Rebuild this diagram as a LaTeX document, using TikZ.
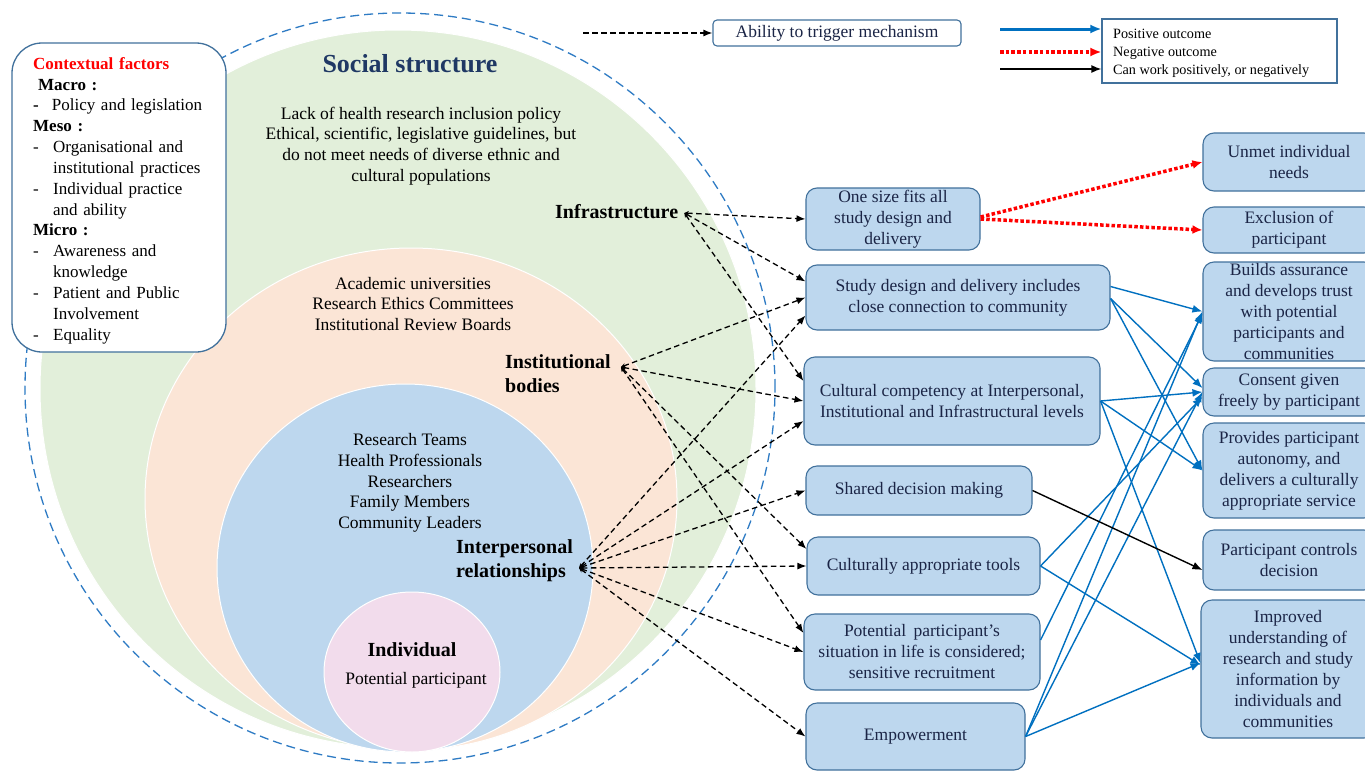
\documentclass[tikz,border=0pt]{standalone}
\usepackage{fontspec}
\setmainfont{Liberation Serif}
\usetikzlibrary{arrows.meta,calc}
\definecolor{gfill}{HTML}{E2EFDA}
\definecolor{pfill}{HTML}{FBE5D6}
\definecolor{bfill}{HTML}{BDD7EE}
\definecolor{kfill}{HTML}{F2DCEC}
\definecolor{bord}{HTML}{41719C}
\definecolor{dblue}{HTML}{2E7BC4}
\definecolor{ablue}{HTML}{0070C0}
\definecolor{tnavy}{HTML}{1B2546}
\definecolor{ssnavy}{HTML}{1F3864}
\definecolor{ctxred}{HTML}{FF0000}
\newcommand{\fsz}[2]{\fontsize{#1}{#2}\selectfont}
\newcommand{\dsh}{\makebox[20pt][l]{-}}
\begin{document}
\begin{tikzpicture}[x=1pt,y=-1pt,
  mbox/.style={draw=bord, fill=bfill, rounded corners=11pt, line width=1.1pt, align=center, text=tnavy, font=\fsz{17.5}{21}, inner sep=0pt},
  rbox/.style={mbox, minimum width=172pt},
  lbl/.style={font=\bfseries\fsz{20}{24}, align=left, inner sep=0pt, anchor=west},
  ctext/.style={font=\fsz{17.5}{20.8}, align=center, inner sep=0pt},
  dasharr/.style={black, line width=1.3pt, dash pattern=on 5.5pt off 3.5pt, {Stealth[length=4.5pt,width=4.5pt]}-{Latex[length=9pt,width=7pt]}},
  barr/.style={draw=ablue, line width=1.4pt, -{Latex[length=10pt,width=8pt]}},
  rarr/.style={draw=red, line width=3.5pt, dash pattern=on 3.5pt off 2.2pt, -{Latex[length=10pt,width=9pt]}},
  karr/.style={draw=black, line width=1.4pt, -{Latex[length=10pt,width=8pt]}}
]
\useasboundingbox (0,0) rectangle (1365,771);
\clip (0,0) rectangle (1365,771);
\fill[white] (0,0) rectangle (1365,771);

% nested ellipses
\draw[white, line width=1pt, fill=gfill] (398,389) ellipse [x radius=358pt, y radius=359pt];
\draw[white, line width=1pt, fill=pfill] (411,499) ellipse [x radius=266pt, y radius=251pt];
\draw[white, line width=1pt, fill=bfill] (405,568) ellipse [x radius=188pt, y radius=184pt];
\draw[white, line width=1pt, fill=kfill] (412,672) ellipse [x radius=88pt, y radius=80pt];
\draw[dblue, line width=1.3pt, dash pattern=on 9pt off 5pt] (400,388) ellipse [x radius=375pt, y radius=375pt];

% contextual factors box
\node[draw=bord, fill=white, line width=1.3pt, rounded corners=30pt, minimum width=214pt, minimum height=309pt, inner sep=0pt] (ctx) at (119,197.5) {};
\node[text width=190pt, inner sep=0pt, align=left, font=\fsz{17}{20.85}, anchor=north west] (ctxt) at (33,57) {%
{\color{ctxred}\bfseries Contextual factors}\\
\hspace*{5pt}\textbf{Macro :}\\
\textbf{-}\hspace*{13pt}Policy and legislation\\
\textbf{Meso :}\\
\dsh Organisational and\\
\hspace*{20pt}institutional practices\\
\dsh Individual practice\\
\hspace*{20pt}and ability\\
\textbf{Micro :}\\
\dsh Awareness and\\
\hspace*{20pt}knowledge\\
\dsh Patient and Public\\
\hspace*{20pt}Involvement\\
\dsh Equality};

% circle texts
\node[font=\bfseries\fsz{26}{30}, text=ssnavy, inner sep=0pt] (ss) at (410,64) {Social structure};
\node[ctext] (gtxt) at (421,146) {Lack of health research inclusion policy\\Ethical, scientific, legislative guidelines, but\\do not meet needs of diverse ethnic and\\cultural populations};
\node[ctext] (ptxt) at (413,304) {Academic universities\\Research Ethics Committees\\Institutional Review Boards};
\node[ctext] (btxt) at (410,483) {Research Teams\\Health Professionals\\Researchers\\Family Members\\Community Leaders};
\node[font=\bfseries\fsz{20}{24}, inner sep=0pt] (ind) at (412,650) {Individual};
\node[ctext] (pp) at (416,680) {Potential participant};

\node[lbl] (infra) at (555,212) {Infrastructure};
\node[lbl] (inst) at (505,374) {Institutional\\bodies};
\node[lbl] (intp) at (456,561) {Interpersonal\\relationships};
\coordinate (infraP) at ([xshift=6pt,yshift=-1pt]infra.east);
\coordinate (instP) at ([xshift=10pt,yshift=7pt]inst.east);
\coordinate (intP) at ([xshift=6pt,yshift=-7pt]intp.east);

% top trigger + legend
\node[draw=bord, fill=white, line width=1.1pt, rounded corners=4pt, minimum width=248pt, minimum height=26pt, inner sep=0pt, text=tnavy, font=\fsz{17.5}{21}] (trig) at (837,33) {Ability to trigger mechanism};
\coordinate (trgS) at (583,33);
\draw[black, line width=1.3pt, dash pattern=on 5.5pt off 3.5pt, -{Latex[length=9pt,width=7pt]}] (trgS) -- (trig.west);

\node[draw=bord, fill=white, line width=1.2pt, minimum width=235pt, minimum height=64pt, inner sep=0pt] (leg) at (1219.5,51) {};
\node[inner sep=0pt, align=left, font=\fsz{14.2}{18}, anchor=north west] (legt) at (1113,29) {Positive outcome\\Negative outcome\\Can work positively, or negatively};
\coordinate (lg1) at (1000,29);
\coordinate (lg2) at (1000,52);
\coordinate (lg3) at (1000,69);
\draw[draw=ablue, line width=3pt, -{Latex[length=11pt,width=9pt]}] (lg1) -- (lg1 -| leg.west);
\draw[draw=red, line width=3.5pt, dash pattern=on 3.5pt off 2.2pt, -{Latex[length=11pt,width=9pt]}] (lg2) -- (lg2 -| leg.west);
\draw[draw=black, line width=1.4pt, -{Latex[length=10pt,width=8pt]}] (lg3) -- (lg3 -| leg.west);

% middle boxes
\node[mbox, minimum width=174pt, minimum height=62pt] (M1) at (893,219) {One size fits all\\study design and\\delivery};
\node[mbox, minimum width=304pt, minimum height=65pt] (M2) at (958,297.5) {Study design and delivery includes\\close connection to community};
\node[mbox, minimum width=296pt, minimum height=88pt] (M3) at (952,401) {Cultural competency at Interpersonal,\\Institutional and Infrastructural levels};
\node[mbox, minimum width=226pt, minimum height=49pt] (M4) at (919,490.5) {Shared decision making};
\node[mbox, minimum width=233pt, minimum height=58pt] (M5) at (923.5,566) {Culturally appropriate tools};
\node[mbox, minimum width=236pt, minimum height=76pt] (M6) at (922,652) {Potential\, participant’s\\situation in life is considered;\\sensitive recruitment};
\node[mbox, minimum width=219pt, minimum height=67pt] (M7) at (915.5,736.5) {Empowerment};

% right boxes
\node[rbox, minimum height=58pt] (R1) at (1289,162) {Unmet individual\\needs};
\node[rbox, minimum height=46pt] (R2) at (1289,230) {Exclusion of\\participant};
\node[rbox, minimum height=99pt] (R3) at (1289,311.5) {Builds assurance\\and develops trust\\with potential\\participants and\\communities};
\node[rbox, minimum height=48pt] (R4) at (1289,392) {Consent given\\freely by participant};
\node[rbox, minimum height=95pt] (R5) at (1289,470.5) {Provides participant\\autonomy, and\\delivers a culturally\\appropriate service};
\node[rbox, minimum height=60pt] (R6) at (1289,560) {Participant controls\\decision};
\node[rbox, minimum width=174pt, minimum height=138pt] (R7) at (1288,669) {Improved\\understanding of\\research and study\\information by\\individuals and\\communities};

% dashed mechanism arrows
\draw[dasharr] (infraP) -- (M1.west);
\draw[dasharr] (infraP) -- ([yshift=16pt]M2.west);
\draw[dasharr] (infraP) -- ([yshift=20pt]M3.west);
\draw[dasharr] (instP) -- (M2.west);
\draw[dasharr] (instP) -- (M3.west);
\draw[dasharr] (instP) -- ([yshift=17pt]M5.west);
\draw[dasharr] (instP) -- ([yshift=19pt]M6.west);
\draw[dasharr] (intP) -- ([yshift=-18pt]M2.west);
\draw[dasharr] (intP) -- ([yshift=-20pt]M3.west);
\draw[dasharr] (intP) -- (M4.west);
\draw[dasharr] (intP) -- (M5.west);
\draw[dasharr] (intP) -- (M6.west);
\draw[dasharr] (intP) -- (M7.west);

% negative outcomes
\draw[rarr] ([yshift=2pt]M1.east) -- (R1.west);
\draw[rarr] (M1.east) -- (R2.west);

% positive outcomes
\draw[barr] ([yshift=11pt]M2.east) -- (R3.west);
\draw[barr] ([yshift=-1pt]M2.east) -- ([yshift=4pt]R4.west);
\draw[barr] ([yshift=-1pt]M2.east) -- (R5.west);
\draw[barr] (M3.east) -- (R4.west);
\draw[barr] (M3.east) -- (R5.west);
\draw[barr] (M3.east) -- ([yshift=6pt]R7.west);
\draw[barr] (M5.east) -- ([yshift=-5pt]R4.west);
\draw[barr] (M5.east) -- ([yshift=4pt]R7.west);
\draw[barr] ([yshift=12pt]M6.east) -- ([yshift=-2pt]R3.west);
\draw[barr] (M7.east) -- (R3.west);
\draw[barr] (M7.east) -- (R4.west);
\draw[barr] (M7.east) -- ([yshift=6pt]R7.west);

% either way
\draw[karr] (M4.east) -- ([yshift=-10pt]R6.west);
\end{tikzpicture}
\end{document}
